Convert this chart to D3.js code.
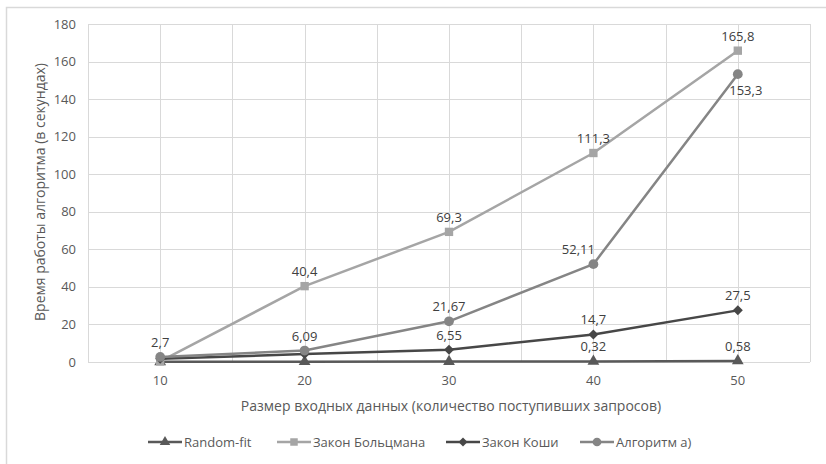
<!DOCTYPE html>
<html>
<head>
<meta charset="utf-8">
<script src="https://d3js.org/d3.v7.min.js"></script>
<style>
  body { margin: 0; background: #fff; }
  text { font-family: "Open Sans", "Noto Sans", sans-serif; }
</style>
</head>
<body>
<div id="chart"></div>
<script>
// data
var sizes = ["10", "20", "30", "40", "50"];
var randomFit = [0.1, 0.15, 0.2, 0.32, 0.58];
var boltzmann = [0.3, 40.4, 69.3, 111.3, 165.8];
var cauchy = [1.7, 4.2, 6.55, 14.7, 27.5];
var algA = [2.7, 6.09, 21.67, 52.11, 153.3];
// labels that are visible in the original (null = hidden)
var randomFitLabels = [null, null, null, "0,32", "0,58"];
var boltzmannLabels = [null, "40,4", "69,3", "111,3", "165,8"];
var cauchyLabels = [null, null, "6,55", "14,7", "27,5"];
var algALabels = ["2,7", "6,09", "21,67", "52,11", "153,3"];
var yTicks = [0, 20, 40, 60, 80, 100, 120, 140, 160, 180];

function drawChart() {
  var W = 826, H = 464;
  var svg = d3.select("#chart").append("svg").attr("width", W).attr("height", H);

  // outer chart border
  svg.append("rect").attr("x", 6.5).attr("y", 7.5).attr("width", 900).attr("height", 600)
    .attr("fill", "none").attr("stroke", "#d9d9d9").attr("stroke-width", 1.5);

  var pL = 88, pR = 810, pT = 24, pB = 362;
  var x = d3.scaleBand().domain(sizes).range([pL, pR]);
  var y = d3.scaleLinear().domain([0, 180]).range([pB, pT]);
  var cx = function (i) { return x(sizes[i]) + x.bandwidth() / 2; };

  // grid
  var grid = svg.append("g");
  yTicks.forEach(function (t) {
    grid.append("line").attr("x1", pL).attr("x2", pR)
      .attr("y1", Math.round(y(t)) + 0.5).attr("y2", Math.round(y(t)) + 0.5)
      .attr("stroke", "#d9d9d9");
  });
  var vx = [pL];
  sizes.forEach(function (s) { vx.push(x(s) + x.bandwidth() / 2); vx.push(x(s) + x.bandwidth()); });
  vx.forEach(function (v) {
    grid.append("line").attr("x1", Math.round(v) + 0.5).attr("x2", Math.round(v) + 0.5)
      .attr("y1", pT).attr("y2", pB).attr("stroke", "#d9d9d9");
  });

  // tick labels
  svg.append("g").selectAll("text").data(yTicks).enter().append("text")
    .attr("x", 76).attr("y", function (d) { return y(d) + 4.5; })
    .attr("text-anchor", "end").attr("font-size", 13).attr("fill", "#595959")
    .text(function (d) { return d; });
  svg.append("g").selectAll("text").data(sizes).enter().append("text")
    .attr("x", function (d, i) { return cx(i); }).attr("y", 385)
    .attr("text-anchor", "middle").attr("font-size", 13).attr("fill", "#595959")
    .text(function (d) { return d; });

  // axis titles
  svg.append("text").attr("x", 451).attr("y", 411).attr("text-anchor", "middle")
    .attr("font-size", 14).attr("fill", "#595959")
    .text("Размер входных данных (количество поступивших запросов)");
  svg.append("text").attr("transform", "translate(45,192) rotate(-90)")
    .attr("text-anchor", "middle").attr("font-size", 14).attr("fill", "#595959")
    .text("Время работы алгоритма (в секундах)");

  var series = [
    { name: "Random-fit", values: randomFit, labels: randomFitLabels, color: "#595959", marker: d3.symbolTriangle, size: 60, rot: 0 },
    { name: "Закон Больцмана", values: boltzmann, labels: boltzmannLabels, color: "#a5a5a5", marker: d3.symbolSquare, size: 70, rot: 0 },
    { name: "Закон Коши", values: cauchy, labels: cauchyLabels, color: "#474747", marker: d3.symbolSquare, size: 50, rot: 45 },
    { name: "Алгоритм а)", values: algA, labels: algALabels, color: "#858585", marker: d3.symbolCircle, size: 75, rot: 0 }
  ];

  var line = d3.line().x(function (d, i) { return cx(i); }).y(function (d) { return y(d); });

  series.forEach(function (s) {
    var g = svg.append("g");
    g.append("path").attr("d", line(s.values)).attr("fill", "none")
      .attr("stroke", s.color).attr("stroke-width", 2.5).attr("stroke-linejoin", "round");
    g.selectAll("path.m").data(s.values).enter().append("path").attr("class", "m")
      .attr("d", d3.symbol().type(s.marker).size(s.size))
      .attr("transform", function (d, i) { return "translate(" + cx(i) + "," + y(d) + ") rotate(" + s.rot + ")"; })
      .attr("fill", s.color);
  });

  // data labels
  series.forEach(function (s) {
    s.values.forEach(function (v, i) {
      if (!s.labels[i]) return;
      var dx = 0, dy = -10;
      if (s.labels[i] === "153,3") { dx = 8; dy = 21; }
      if (s.labels[i] === "52,11") { dx = -15; }
      svg.append("text")
        .attr("x", cx(i) + dx)
        .attr("y", y(v) + dy)
        .attr("text-anchor", "middle").attr("font-size", 13).attr("fill", "#404040")
        .text(s.labels[i]);
    });
  });

  // legend
  var legX = [148, 277, 446, 580];
  series.forEach(function (s, i) {
    var g = svg.append("g").attr("transform", "translate(" + legX[i] + ",442)");
    g.append("line").attr("x1", 0).attr("x2", 34).attr("y1", 0).attr("y2", 0)
      .attr("stroke", s.color).attr("stroke-width", 2.5);
    g.append("path").attr("d", d3.symbol().type(s.marker).size(s.size * 0.8))
      .attr("transform", "translate(17,0) rotate(" + s.rot + ")").attr("fill", s.color);
    g.append("text").attr("x", 36).attr("y", 4.5).attr("font-size", 13).attr("fill", "#595959")
      .text(s.name);
  });
}
drawChart();
</script>
</body>
</html>
